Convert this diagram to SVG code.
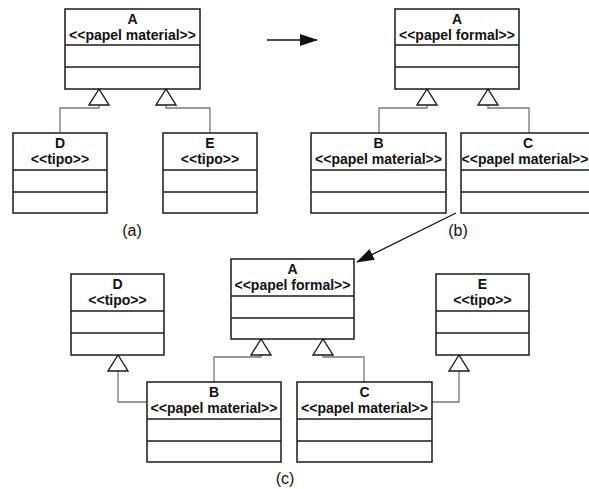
<svg xmlns="http://www.w3.org/2000/svg" xmlns:xlink="http://www.w3.org/1999/xlink" width="589" height="489" viewBox="0 0 589 489">
  <style>
    .box { fill: #ffffff; stroke: #1a1a1a; stroke-width: 1.5; }
    .div { stroke: #1a1a1a; stroke-width: 1.5; }
    .name { font-family: "Liberation Sans", Arial, sans-serif; font-weight: bold; font-size: 14px; fill: #111; text-anchor: middle; }
    .cap { font-family: "Liberation Sans", Arial, sans-serif; font-size: 16px; fill: #111; text-anchor: middle; }
    .gen { fill: none; stroke: #777777; stroke-width: 1.3; }
    .tri { fill: #ffffff; stroke: #1a1a1a; stroke-width: 1.4; }
    .flow { fill: none; stroke: #111; stroke-width: 1.3; }
  </style>
  <defs>
    <polygon id="genHead" class="tri" points="0,0 -10,16 10,16"/>
    <marker id="arrow" markerWidth="18" markerHeight="12" refX="17" refY="6" orient="auto" markerUnits="userSpaceOnUse">
      <polygon points="0,0 18,6 0,12" fill="#111"/>
    </marker>
  </defs>

  <rect width="589" height="489" fill="#ffffff"/>

  <!-- connectors -->
  <g id="connectors">
    <!-- (a) -->
    <path class="gen" d="M99,105 V108 H60 V133"/>
    <path class="gen" d="M166,105 V108 H210 V133"/>
    <!-- (b) -->
    <path class="gen" d="M427,105 V108 H379 V133"/>
    <path class="gen" d="M488,105 V108 H529 V133"/>
    <!-- (c) -->
    <path class="gen" d="M261,355 V357 H214 V382"/>
    <path class="gen" d="M323,355 V357 H364 V382"/>
    <path class="gen" d="M118,371 V402 H147"/>
    <path class="gen" d="M459,371 V402 H432"/>
    <!-- transformation arrows -->
    <path class="flow" d="M267,40 H317" marker-end="url(#arrow)"/>
    <path class="flow" d="M456,213 L357,262" marker-end="url(#arrow)"/>
  </g>

  <!-- (a) -->
  <g id="a-A">
    <rect class="box" x="65" y="9" width="135" height="80"/>
    <line class="div" x1="65" y1="45" x2="200" y2="45"/>
    <line class="div" x1="65" y1="67" x2="200" y2="67"/>
    <text class="name" x="132.5" y="24">A</text>
    <text class="name" x="132.5" y="40">&lt;&lt;papel material&gt;&gt;</text>
  </g>
  <g id="a-D">
    <rect class="box" x="13" y="133" width="94" height="80"/>
    <line class="div" x1="13" y1="170" x2="107" y2="170"/>
    <line class="div" x1="13" y1="192" x2="107" y2="192"/>
    <text class="name" x="60" y="148">D</text>
    <text class="name" x="60" y="164">&lt;&lt;tipo&gt;&gt;</text>
  </g>
  <g id="a-E">
    <rect class="box" x="163" y="133" width="94" height="80"/>
    <line class="div" x1="163" y1="170" x2="257" y2="170"/>
    <line class="div" x1="163" y1="192" x2="257" y2="192"/>
    <text class="name" x="210" y="148">E</text>
    <text class="name" x="210" y="164">&lt;&lt;tipo&gt;&gt;</text>
  </g>
  <use xlink:href="#genHead" x="99" y="89"/>
  <use xlink:href="#genHead" x="166" y="89"/>
  <text class="cap" x="132" y="236">(a)</text>

  <!-- (b) -->
  <g id="b-A">
    <rect class="box" x="395" y="9" width="124" height="80"/>
    <line class="div" x1="395" y1="45" x2="519" y2="45"/>
    <line class="div" x1="395" y1="67" x2="519" y2="67"/>
    <text class="name" x="457" y="24">A</text>
    <text class="name" x="457" y="40">&lt;&lt;papel formal&gt;&gt;</text>
  </g>
  <g id="b-B">
    <rect class="box" x="311" y="133" width="135" height="80"/>
    <line class="div" x1="311" y1="170" x2="446" y2="170"/>
    <line class="div" x1="311" y1="192" x2="446" y2="192"/>
    <text class="name" x="378.5" y="148">B</text>
    <text class="name" x="378.5" y="164">&lt;&lt;papel material&gt;&gt;</text>
  </g>
  <g id="b-C">
    <rect class="box" x="461" y="133" width="135" height="80"/>
    <line class="div" x1="461" y1="170" x2="596" y2="170"/>
    <line class="div" x1="461" y1="192" x2="596" y2="192"/>
    <text class="name" x="528" y="148">C</text>
    <text class="name" x="525" y="164">&lt;&lt;papel material&gt;&gt;</text>
  </g>
  <use xlink:href="#genHead" x="427" y="89"/>
  <use xlink:href="#genHead" x="488" y="89"/>
  <text class="cap" x="458" y="236">(b)</text>

  <!-- (c) -->
  <g id="c-D">
    <rect class="box" x="71" y="274" width="93" height="81"/>
    <line class="div" x1="71" y1="311" x2="164" y2="311"/>
    <line class="div" x1="71" y1="333" x2="164" y2="333"/>
    <text class="name" x="117.5" y="289">D</text>
    <text class="name" x="117.5" y="305">&lt;&lt;tipo&gt;&gt;</text>
  </g>
  <g id="c-A">
    <rect class="box" x="231" y="259" width="123" height="80"/>
    <line class="div" x1="231" y1="296" x2="354" y2="296"/>
    <line class="div" x1="231" y1="318" x2="354" y2="318"/>
    <text class="name" x="292.5" y="274">A</text>
    <text class="name" x="292.5" y="290">&lt;&lt;papel formal&gt;&gt;</text>
  </g>
  <g id="c-E">
    <rect class="box" x="436" y="274" width="93" height="81"/>
    <line class="div" x1="436" y1="311" x2="529" y2="311"/>
    <line class="div" x1="436" y1="333" x2="529" y2="333"/>
    <text class="name" x="482.5" y="289">E</text>
    <text class="name" x="482.5" y="305">&lt;&lt;tipo&gt;&gt;</text>
  </g>
  <g id="c-B">
    <rect class="box" x="147" y="382" width="134" height="80"/>
    <line class="div" x1="147" y1="419" x2="281" y2="419"/>
    <line class="div" x1="147" y1="441" x2="281" y2="441"/>
    <text class="name" x="214" y="397">B</text>
    <text class="name" x="214" y="413">&lt;&lt;papel material&gt;&gt;</text>
  </g>
  <g id="c-C">
    <rect class="box" x="297" y="382" width="135" height="80"/>
    <line class="div" x1="297" y1="419" x2="432" y2="419"/>
    <line class="div" x1="297" y1="441" x2="432" y2="441"/>
    <text class="name" x="364.5" y="397">C</text>
    <text class="name" x="364.5" y="413">&lt;&lt;papel material&gt;&gt;</text>
  </g>
  <use xlink:href="#genHead" x="261" y="339"/>
  <use xlink:href="#genHead" x="323" y="339"/>
  <use xlink:href="#genHead" x="118" y="355"/>
  <use xlink:href="#genHead" x="459" y="355"/>
  <text class="cap" x="285" y="484">(c)</text>
</svg>
